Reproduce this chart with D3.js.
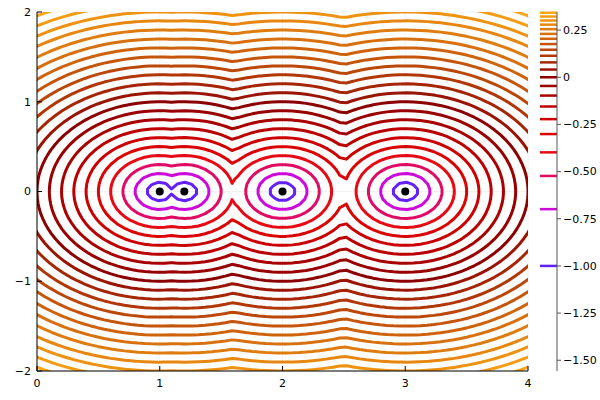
<!DOCTYPE html>
<html>
<head>
<meta charset="utf-8">
<script src="https://cdn.jsdelivr.net/npm/d3@7"></script>
<style>
  body { margin: 0; background: #fff; }
  text { font-family: "DejaVu Sans", sans-serif; font-size: 11px; fill: #000; }
</style>
</head>
<body>
<svg id="chart" width="600" height="400"></svg>
<script>
// point positions (all on y = 0)
const chargeX = [1, 1.2, 2, 3];
const chargeY = [0, 0, 0, 0];

// contour levels
const levels = [-1.0, -0.699, -0.523, -0.398, -0.301, -0.222, -0.155, -0.097, -0.046, 0,
    0.041, 0.079, 0.114, 0.146, 0.176, 0.204, 0.230, 0.255, 0.279, 0.301, 0.322, 0.342];

// axes
const xTicks = [0, 1, 2, 3, 4];
const yTicks = [-2, -1, 0, 1, 2];
const cbTicks = [-1.5, -1.25, -1, -0.75, -0.5, -0.25, 0, 0.25];
const cbRange = [-1.557, 0.346];

// colour map stops (value -> colour)
const colorStops = [-1.557, -1.0, -0.7, -0.52, -0.38, -0.2, 0, 0.346];
const colorVals = ['#2a2aff', '#6420f8', '#cc0ada', '#e00c62', '#e80808', '#c80000', '#8b0000', '#fda815'];

const plot = { left: 37, right: 528, top: 12, bottom: 371 };

const svg = d3.select('#chart');

const x = d3.scaleLinear().domain([0, 4]).range([plot.left, plot.right]);
const y = d3.scaleLinear().domain([-2, 2]).range([plot.bottom, plot.top]);
const color = d3.scaleLinear().domain(colorStops).range(colorVals);

// grid lines
svg.append('g')
    .selectAll('line')
    .data(xTicks)
    .enter()
    .append('line')
    .attr('x1', d => x(d)).attr('x2', d => x(d))
    .attr('y1', plot.top).attr('y2', plot.bottom)
    .attr('stroke', '#000').attr('stroke-opacity', 0.1).attr('stroke-width', 0.5);
svg.append('g')
    .selectAll('line')
    .data(yTicks)
    .enter()
    .append('line')
    .attr('y1', d => y(d)).attr('y2', d => y(d))
    .attr('x1', plot.left).attr('x2', plot.right)
    .attr('stroke', '#000').attr('stroke-opacity', 0.1).attr('stroke-width', 0.5);

// field: log10 of the distance to the nearest point, on a 74 x 74 grid over the frame
// (extended by a few cells so the region borders fall outside the clip)
const n = 74, extra = 3;
const hx = 4 / (n - 1), hy = 4 / (n - 1);
const gx0 = -extra * hx, gy0 = -2 - extra * hy;
const nx = n + 2 * extra, ny = n + 2 * extra;
const values = new Float64Array(nx * ny);
for (let j = 0; j < ny; j++) {
    const py = gy0 + j * hy;
    for (let i = 0; i < nx; i++) {
        const px = gx0 + i * hx;
        let dmin = Infinity;
        for (let k = 0; k < chargeX.length; k++) {
            const d = Math.hypot(px - chargeX[k], py - chargeY[k]);
            if (d < dmin) dmin = d;
        }
        values[j * nx + i] = Math.log10(Math.max(dmin, 1e-4));
    }
}

const contours = d3.contours().size([nx, ny]).thresholds(levels)(values);

const proj = d3.geoTransform({
    point: function(cx, cy) {
        this.stream.point(x(gx0 + (cx - 0.5) * hx), y(gy0 + (cy - 0.5) * hy));
    }
});
const path = d3.geoPath(proj);

svg.append('clipPath').attr('id', 'clip')
    .append('rect')
    .attr('x', plot.left).attr('y', plot.top)
    .attr('width', plot.right - plot.left).attr('height', plot.bottom - plot.top);

svg.append('g')
    .attr('clip-path', 'url(#clip)')
    .selectAll('path')
    .data(contours)
    .enter()
    .append('path')
    .attr('d', path)
    .attr('fill', 'none')
    .attr('stroke', d => color(d.value))
    .attr('stroke-width', 3)
    .attr('stroke-linejoin', 'round');

// points
svg.append('g')
    .selectAll('circle')
    .data(chargeX)
    .enter()
    .append('circle')
    .attr('cx', (d, i) => x(d))
    .attr('cy', (d, i) => y(chargeY[i]))
    .attr('r', 4)
    .attr('fill', '#000');

// axes
const xAxis = svg.append('g');
xAxis.append('line')
    .attr('x1', plot.left).attr('x2', plot.right)
    .attr('y1', plot.bottom).attr('y2', plot.bottom)
    .attr('stroke', '#000').attr('stroke-width', 1);
xAxis.selectAll('.tick')
    .data(xTicks)
    .enter()
    .append('line')
    .attr('x1', d => x(d)).attr('x2', d => x(d))
    .attr('y1', plot.bottom).attr('y2', plot.bottom - 5)
    .attr('stroke', '#000');
xAxis.selectAll('text')
    .data(xTicks)
    .enter()
    .append('text')
    .attr('x', d => x(d))
    .attr('y', plot.bottom + 16)
    .attr('text-anchor', 'middle')
    .text(d => d3.format('d')(d));

const yAxis = svg.append('g');
yAxis.append('line')
    .attr('x1', plot.left).attr('x2', plot.left)
    .attr('y1', plot.top).attr('y2', plot.bottom)
    .attr('stroke', '#000').attr('stroke-width', 1);
yAxis.selectAll('.tick')
    .data(yTicks)
    .enter()
    .append('line')
    .attr('y1', d => y(d)).attr('y2', d => y(d))
    .attr('x1', plot.left).attr('x2', plot.left + 5)
    .attr('stroke', '#000');
yAxis.selectAll('text')
    .data(yTicks)
    .enter()
    .append('text')
    .attr('x', plot.left - 6)
    .attr('y', d => y(d))
    .attr('dy', '0.35em')
    .attr('text-anchor', 'end')
    .text(d => d3.format('d')(d));

// colour bar
const cb = d3.scaleLinear().domain(cbRange).range([plot.bottom, plot.top]);
const cbX0 = 540, cbX1 = 557;
svg.append('g')
    .selectAll('line')
    .data(levels)
    .enter()
    .append('line')
    .attr('x1', cbX0).attr('x2', cbX1)
    .attr('y1', d => cb(d)).attr('y2', d => cb(d))
    .attr('stroke', d => color(d))
    .attr('stroke-width', 2.5);

const cbAxis = svg.append('g');
cbAxis.append('line')
    .attr('x1', cbX1).attr('x2', cbX1)
    .attr('y1', plot.top).attr('y2', plot.bottom)
    .attr('stroke', '#555').attr('stroke-width', 1);
cbAxis.selectAll('.tick')
    .data(cbTicks)
    .enter()
    .append('line')
    .attr('x1', cbX1).attr('x2', cbX1 + 4)
    .attr('y1', d => cb(d)).attr('y2', d => cb(d))
    .attr('stroke', '#555');
cbAxis.selectAll('text')
    .data(cbTicks)
    .enter()
    .append('text')
    .attr('x', cbX1 + 6)
    .attr('y', d => cb(d))
    .attr('dy', '0.35em')
    .text(d => d === 0 ? '0' : d3.format('.2f')(d));
</script>
</body>
</html>
